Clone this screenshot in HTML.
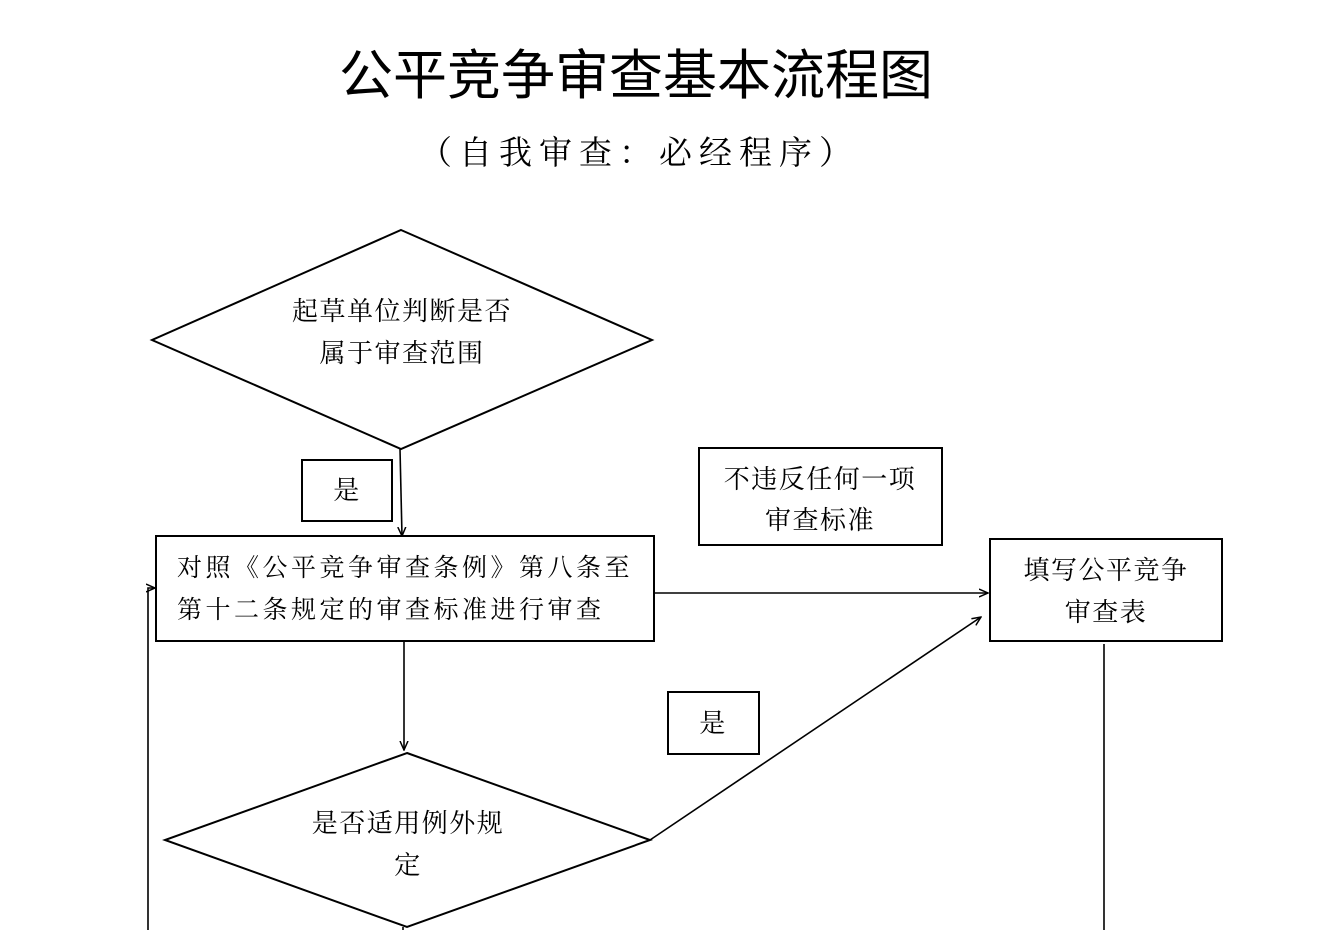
<!DOCTYPE html>
<html><head><meta charset="utf-8"><style>
html,body{margin:0;padding:0;background:#fff;width:1328px;height:930px;overflow:hidden}
svg text{font-family:"Liberation Serif","Noto Serif CJK SC",serif;fill:#000}
</style></head><body>
<svg width="1328" height="930" viewBox="0 0 1328 930" xmlns="http://www.w3.org/2000/svg">
<defs><marker id="a" markerWidth="10" markerHeight="10" refX="9" refY="5" orient="auto" markerUnits="userSpaceOnUse"><path d="M0,1 L9,5 L0,9" fill="none" stroke="#000" stroke-width="1.5"/></marker></defs>
<text x="636" y="94" font-size="54" text-anchor="middle" style="font-family:'Liberation Sans','Noto Sans CJK SC',sans-serif">公平竞争审查基本流程图</text>
<text x="639" y="164" font-size="33" text-anchor="middle" letter-spacing="7">（自我审查：必经程序）</text>
<g fill="none" stroke="#000" stroke-width="2">
<polygon points="401,230 652,340 401,449 152,340"/>
<rect x="302" y="460" width="90" height="61"/>
<rect x="156" y="536" width="498" height="105"/>
<rect x="699" y="448" width="243" height="97"/>
<rect x="990" y="539" width="232" height="102"/>
<rect x="668" y="692" width="91" height="62"/>
<polygon points="407,753 650,840 407,927 165,840"/>
</g>
<g fill="none" stroke="#000" stroke-width="1.6">
<line x1="400" y1="449" x2="402" y2="536" marker-end="url(#a)"/>
<line x1="654" y1="593" x2="988" y2="593" marker-end="url(#a)"/>
<line x1="404" y1="641" x2="404" y2="750" marker-end="url(#a)"/>
<line x1="650" y1="840" x2="981" y2="617" marker-end="url(#a)"/>
<polyline points="148,930 148,588 155,588" marker-end="url(#a)"/>
<line x1="1104" y1="644" x2="1104" y2="930"/>
<line x1="403" y1="927" x2="403" y2="930"/>
</g>
<g font-size="26" text-anchor="middle" letter-spacing="1.5">
<text x="402" y="320">起草单位判断是否</text>
<text x="402" y="362">属于审查范围</text>
<text x="347" y="499">是</text>
<text x="820" y="488">不违反任何一项</text>
<text x="820" y="529">审查标准</text>
<text x="1106" y="579">填写公平竞争</text>
<text x="1106" y="621">审查表</text>
<text x="713" y="732">是</text>
<text x="408" y="832">是否适用例外规</text>
<text x="408" y="874">定</text>
</g>
<g font-size="25" letter-spacing="3.5">
<text x="177" y="576">对照《公平竞争审查条例》第八条至</text>
<text x="177" y="618">第十二条规定的审查标准进行审查</text>
</g>
</svg>
</body></html>
